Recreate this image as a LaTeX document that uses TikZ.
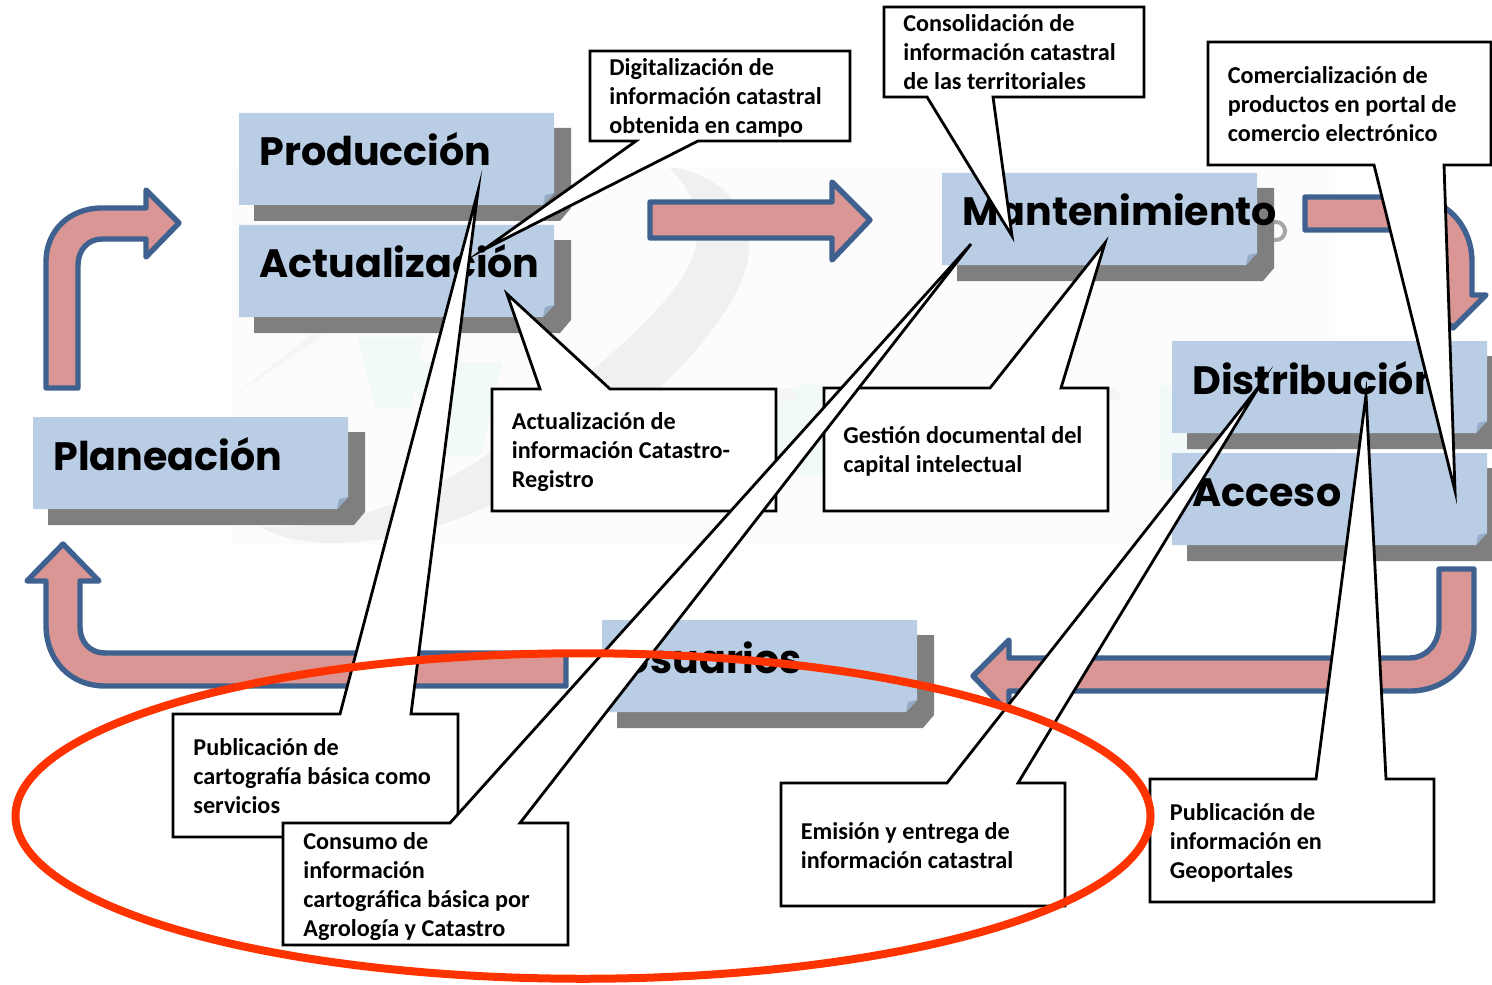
\documentclass[tikz,border=0pt]{standalone}
\usepackage{fontspec}
\usetikzlibrary{shapes.geometric}
\setmainfont{Carlito}
\newfontfamily\tagfont{Poppins}
\definecolor{tagblue}{HTML}{B9CDE5}
\definecolor{tagfold}{HTML}{95ACC8}
\definecolor{tagshadow}{HTML}{7F7F7F}
\definecolor{arrowpink}{HTML}{D99694}
\definecolor{arrowline}{HTML}{3F618F}
\definecolor{ringred}{HTML}{FF3300}
\tikzset{
  flowarrow/.style = {fill = arrowpink, draw = arrowline, line width = 2.7pt, line join = round},
  note/.style = {fill = white, draw = black, line width = 1.4pt, line join = miter, miter limit = 20},
  notetext/.style = {anchor = north west, inner sep = 0pt, align = left,
    font = \fontsize{12.1}{14.5}\selectfont\bfseries},
  taglabel/.style = {anchor = base west, inner sep = 0pt,
    font = \fontsize{19.8}{24}\selectfont\tagfont\bfseries},
  faintmark/.style = {fill = #1, draw = none}
}
% one blue tag with its shadow and folded corner
\newcommand{\tagbox}[4]{
  \begin{scope}[shift = {(#2,#3)}]
    \fill[tagshadow] (15,15) -- (332,15) -- (332,95) -- (321,108) -- (15,108) -- cycle;
    \fill[tagblue] (0,0) -- (315,0) -- (315,80) -- (304,92) -- (0,92) -- cycle;
    \fill[tagfold] (315,80) -- (304,92) -- (306,82) -- cycle;
    \node[taglabel] (#1) at (20,53) {#4};
  \end{scope}
}
\begin{document}
\begin{tikzpicture}[x = .5pt, y = -.5pt]
  \useasboundingbox (0,0) rectangle (1492,984);

  % faint watermark
  \fill[faintmark = black!1] (232,168) rectangle (1335,545);
  \fill[faintmark = black!6] (669,167) .. controls (730,175) and (755,220) .. (748,260)
    .. controls (735,320) and (660,400) .. (560,465)
    .. controls (480,520) and (400,543) .. (330,543)
    .. controls (300,543) and (275,535) .. (260,527)
    .. controls (330,530) and (420,505) .. (500,445)
    .. controls (580,380) and (690,300) .. (697,240)
    .. controls (700,215) and (695,195) .. (669,167) -- cycle;
  \fill[faintmark = black!4] (235,395) -- (310,335) -- (325,335) -- cycle;
  \fill[faintmark = teal!5] (357,337) -- (424,337) -- (412,407) -- (375,407) -- cycle;
  \fill[faintmark = teal!5] (408,362) -- (502,362) -- (481,455) -- (436,455) -- cycle;
  \fill[faintmark = teal!5] (1160,385) rectangle (1200,480);
  \fill[faintmark = teal!5] (810,430) circle (46);
  \fill[faintmark = black!4] (780,388) -- (790,388) -- (800,400) -- (780,400) -- cycle;
  \fill[faintmark = black!4] (1108,388) -- (1115,388) -- (1122,400) -- (1108,400) -- cycle;

  % arrows
  \draw[flowarrow] (46,388) -- (46,262) .. controls (46,230) and (70,208) .. (102,208) -- (146,208)
    -- (146,190) -- (179,223) -- (146,257) -- (146,239) -- (102,239)
    .. controls (88,239) and (78,250) .. (78,265) -- (78,388) -- cycle;
  \draw[flowarrow] (650,202) -- (832,202) -- (832,182) -- (870,220) -- (832,260) -- (832,238) -- (650,238) -- cycle;
  \draw[flowarrow] (1305,197) -- (1410,197) .. controls (1445,197) and (1472,225) .. (1472,262)
    -- (1472,295) -- (1486,295) -- (1453,328) -- (1420,295) -- (1437,295) -- (1437,262)
    .. controls (1437,245) and (1425,230) .. (1410,230) -- (1305,230) -- cycle;
  \draw[flowarrow] (1474,569) -- (1474,628) .. controls (1474,665) and (1445,691) .. (1410,691)
    -- (1009,691) -- (1009,713) -- (973,676) -- (1009,640) -- (1009,658) -- (1410,658)
    .. controls (1425,658) and (1439,645) .. (1439,625) -- (1439,569) -- cycle;
  \draw[flowarrow] (566,686) -- (105,686) .. controls (70,686) and (46,660) .. (46,625) -- (46,581)
    -- (27,581) -- (63,544) -- (99,581) -- (80,581) -- (80,627)
    .. controls (80,642) and (90,653) .. (105,653) -- (566,653) -- cycle;
  \draw[color = black!35, line width = 2pt] (1276,231) circle (9);

  % blue tags
  \tagbox{prod}{239}{113}{Producción}
  \tagbox{actual}{239}{225}{Actualización}
  \tagbox{plan}{33}{417}{Planeación}
  \tagbox{mant}{942}{173}{Mantenimiento}
  \tagbox{dist}{1172}{341}{Distribución}
  \tagbox{acceso}{1172}{453}{Acceso}
  \tagbox{usuarios}{602}{620}{Usuarios}

  % callouts
  \draw[note] (590,51) -- (850,51) -- (850,141) -- (698,141) -- (483,250) -- (636,141) -- (590,141) -- cycle;
  \node[notetext] (digital) at (609,58.5) {Digitalización de\\información catastral\\obtenida en campo};
  \draw[note] (884,7) -- (1144,7) -- (1144,97) -- (993,97) -- (1012,236) -- (927,97) -- (884,97) -- cycle;
  \node[notetext] (consol) at (903,14.5) {Consolidación de\\información catastral\\de las territoriales};
  \draw[note] (492,389) -- (540,389) -- (507,294) -- (610,389) -- (776,389) -- (776,511) -- (492,511) -- cycle;
  \node[notetext] (catastro) at (511.5,412.5) {Actualización de\\información Catastro-\\Registro};
  \draw[note] (824,388) -- (990,388) -- (1105,243) -- (1061,388) -- (1108,388) -- (1108,511) -- (824,511) -- cycle;
  \node[notetext] (gestion) at (843,426.5) {Gestión documental del\\capital intelectual};
  \draw[note] (173,714) -- (340,714) -- (478,191) -- (411,714) -- (458,714) -- (458,837) -- (173,837) -- cycle;
  \node[notetext] (pubcarto) at (193,738.5) {Publicación de\\cartografía básica como\\servicios};
  \draw[note] (283,823) -- (450,823) -- (971,244) -- (520,823) -- (568,823) -- (568,945) -- (283,945) -- cycle;
  \node[notetext] (consumo) at (303,832.5) {Consumo de\\información\\cartográfica básica por\\Agrología y Catastro};
  \draw[note] (781,783) -- (947,783) -- (1260,385) -- (1018,783) -- (1065,783) -- (1065,906) -- (781,906) -- cycle;
  \node[notetext] (emision) at (800.5,822.5) {Emisión y entrega de\\información catastral};
  \draw[note] (1150,779) -- (1316,779) -- (1366,395) -- (1386,779) -- (1434,779) -- (1434,902) -- (1150,902) -- cycle;
  \node[notetext] (pubgeo) at (1169.5,803.5) {Publicación de\\información en\\Geoportales};
  \draw[note] (1208,42) -- (1491,42) -- (1491,165) -- (1444,165) -- (1455,491) -- (1374,165) -- (1208,165) -- cycle;
  \node[notetext] (comercio) at (1227.5,66.5) {Comercialización de\\productos en portal de\\comercio electrónico};

  % red ring on top of everything
  \node[draw = ringred, line width = 4pt, ellipse, minimum width = 567.5pt, minimum height = 162.75pt, inner sep = 0pt] (ring) at (583,816) {};
\end{tikzpicture}
\end{document}
